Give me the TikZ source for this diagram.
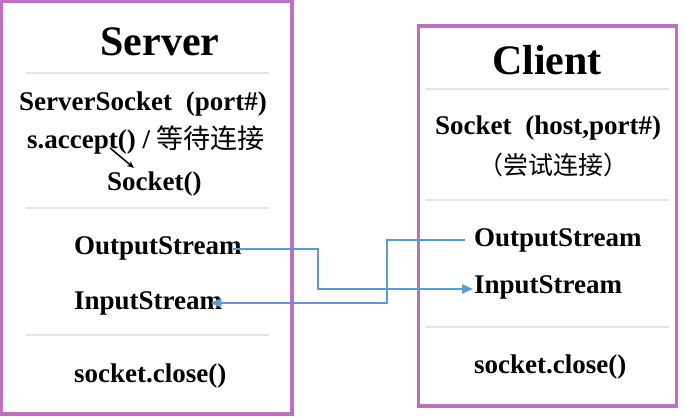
\documentclass[tikz,border=0pt]{standalone}
\usepackage{fontspec}
\setmainfont{Liberation Serif}
\newfontfamily\cjk{Noto Sans CJK SC}
\usetikzlibrary{arrows.meta,calc}
\definecolor{frame}{HTML}{BF6FBF}
\definecolor{sep}{HTML}{E3E3E3}
\definecolor{flowc}{HTML}{5B9BD5}
\tikzset{
  box/.style={draw=frame,line width=3.5pt},
  sepline/.style={draw=sep,line width=2.2pt},
  title/.style={font=\fontsize{42}{42}\selectfont\bfseries,inner sep=0pt,anchor=base},
  txt/.style={font=\fontsize{27}{27}\selectfont\bfseries,inner sep=0pt,anchor=base west},
  flow/.style={draw=flowc,line width=2.6pt,-{Triangle[length=11pt,width=9pt]}},
}
\begin{document}
\begin{tikzpicture}[x=1pt,y=-1pt]
\useasboundingbox (0,0) rectangle (685,417);
% frames
\draw[box] (1.7,1.7) rectangle (292,414);
\draw[box] (418.5,26) rectangle (676.5,406);
% separators
\draw[sepline] (26,73) -- (269,73);
\draw[sepline] (26,208) -- (269,208);
\draw[sepline] (26,335) -- (269,335);
\draw[sepline] (426,89) -- (669,89);
\draw[sepline] (426,200) -- (669,200);
\draw[sepline] (426,327) -- (669,327);
% server
\node[title] (stitle) at (160,56) {Server};
\node[txt] (ss) at (19,111) {ServerSocket\hspace{7pt} (port\#)};
\node[txt] (acc) at (27,149) {s.accept() / {\cjk\mdseries 等待连接}};
\node[txt] (sock) at (107,190) {Socket()};
\node[txt] (sout) at (74,254) {OutputStream};
\node[txt] (sin) at (74,309) {InputStream};
\node[txt] (sclose) at (74,382) {socket.close()};
% client
\node[title] (ctitle) at (547,75) {Client};
\node[txt] (cs) at (435,135) {Socket\hspace{7pt} (host,port\#)};
\node[font=\fontsize{25}{25}\selectfont\cjk,inner sep=0pt,anchor=base] (try) at (553,174) {（尝试连接）};
\node[txt] (cout) at (474,246) {OutputStream};
\node[txt] (cin) at (474,293) {InputStream};
\node[txt] (cclose) at (474,373) {socket.close()};
% accept arrow
\coordinate (acc1) at ($(acc.base west)+(83,-1)$);
\draw[-{Stealth[length=7pt,width=6pt]},line width=1.5pt] (acc1) -- ($(sock.base west)+(27,-22)$);
% flows
\coordinate (f1) at ($(sout.base east)+(-9,-5)$);
\coordinate (f2) at ($(cin.base west)+(-1,-4)$);
\draw[flow] (f1) -- ++(85,0) |- (f2);
\coordinate (g1) at ($(cout.base west)+(-9,-6)$);
\coordinate (g2) at ($(sin.base east)+(-12,-6)$);
\draw[flow] (g1) -- ++(-78,0) |- (g2);
\end{tikzpicture}
\end{document}
